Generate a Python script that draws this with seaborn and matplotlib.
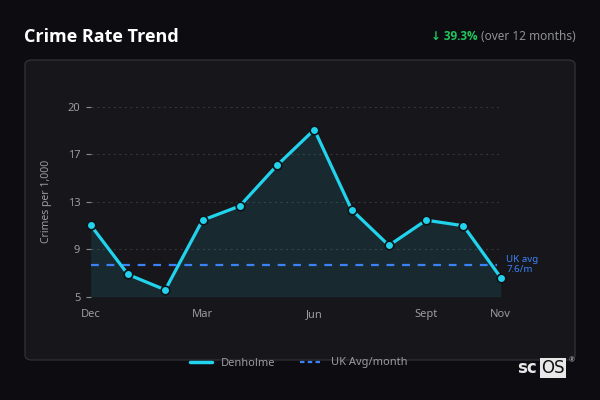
import matplotlib
matplotlib.use("Agg")
import matplotlib.pyplot as plt
from matplotlib.patches import FancyBboxPatch
from matplotlib.lines import Line2D
import numpy as np
import pandas as pd
import seaborn as sns

months = ["Dec", "Jan", "Feb", "Mar", "Apr", "May", "Jun", "Jul", "Aug", "Sept", "Oct", "Nov"]
rates = [10.8, 6.8, 5.55, 11.2, 12.35, 15.65, 18.55, 12.05, 9.15, 11.2, 10.75, 6.55]
uk_avg = 7.6
shown_ticks = ["Dec", "Mar", "Jun", "Sept", "Nov"]
series_name = "Denholme"
uk_name = "UK Avg/month"

sns.set_theme(style="dark")
plt.rcParams['font.family'] = ['Noto Sans', 'DejaVu Sans']
BOLD = ['Open Sans', 'DejaVu Sans']

BG = "#0d0d11"
PANEL = "#17171b"
CYAN = "#22d3ee"
BLUE = "#3b82f6"
GREY = "#9a9aa2"

df = pd.DataFrame({"idx": np.arange(len(months)), "month": months, "rate": rates})

fig = plt.figure(figsize=(6, 4), dpi=100, facecolor=BG)
panel = FancyBboxPatch((25 / 600, 40 / 400), 550 / 600, 300 / 400,
                       boxstyle="round,pad=0,rounding_size=0.012",
                       transform=fig.transFigure, facecolor=PANEL,
                       edgecolor="#2e2e35", linewidth=1, zorder=-5)
fig.patches.append(panel)

ax = fig.add_axes([90.7 / 600, 1 - 296.7 / 400, 410 / 600, 190 / 400])
ax.set_zorder(5)
ax.set_facecolor("none")

lo = min(rates) * 0.9
hi = max(rates) * 1.1

ax.fill_between(df["idx"], df["rate"], lo, color=CYAN, alpha=0.10, linewidth=0, zorder=1)
ax.axhline(uk_avg, xmin=0, xmax=0.99, color=BLUE, lw=1.6, ls=(0, (3.5, 3.5)), zorder=2)
sns.lineplot(data=df, x="idx", y="rate", ax=ax, color=CYAN, lw=2.3, marker="o",
             markersize=6.2, markeredgecolor="#0f1216", markeredgewidth=1.2, zorder=3,
             clip_on=False)

ax.set_xlim(0, len(months) - 1)
ax.set_ylim(lo, hi)
yt = np.linspace(lo, hi, 5)
ax.set_yticks(yt)
ax.set_yticklabels([f"{v:.0f}" for v in yt])
xt = [months.index(m) for m in shown_ticks]
ax.set_xticks(xt)
ax.set_xticklabels(shown_ticks)
ax.tick_params(axis="y", colors="#8a8a92", labelcolor=GREY, labelsize=8, length=3.5, width=0.8, pad=4, left=True)
ax.tick_params(axis="x", labelcolor=GREY, labelsize=8, length=0, pad=9)
for s in ax.spines.values():
    s.set_visible(False)
ax.grid(axis="y", color="#34343a", ls=(0, (2, 3)), lw=0.8)
ax.grid(axis="x", visible=False)
ax.set_xlabel("")
ax.set_ylabel("Crimes per 1,000", color=GREY, fontsize=7.5, labelpad=11)

ax.text(len(months) - 1 + 0.15, uk_avg, "UK avg\n7.6/m", color=BLUE, fontsize=7,
        va="center", ha="left", linespacing=1.1)

fig.text(24 / 600, 1 - 37 / 400, "Crime Rate Trend", color="white", fontsize=13,
         fontweight="bold", va="center", ha="left", family=BOLD)
fig.text(576 / 600, 1 - 37 / 400, "(over 12 months)", color="#8f8f97", fontsize=8.5,
         va="center", ha="right")
fig.text(478 / 600, 1 - 37 / 400, "↓ 39.3%", color="#22c55e", fontsize=8.5, fontweight="bold",
         va="center", ha="right", family=BOLD)

handles = [Line2D([0], [0], color=CYAN, lw=2.5),
           Line2D([0], [0], color=BLUE, lw=1.6, ls=(0, (2, 1.5)))]
leg = fig.legend(handles, [series_name, uk_name], loc="center", bbox_to_anchor=(299 / 600, 1 - 363 / 400),
                 ncol=2, frameon=False, fontsize=8, handlelength=2.0, columnspacing=2.2,
                 handletextpad=0.8)
for t in leg.get_texts():
    t.set_color(GREY)

fig.text(537 / 600, 1 - 368 / 400, "sc", color="#e8e8e8", fontsize=12, fontweight="bold",
         ha="right", va="center", family=["DejaVu Sans"])
fig.text(553 / 600, 1 - 368 / 400, "OS", color="#111", fontsize=12, ha="center", va="center",
         family=["DejaVu Sans"],
         bbox=dict(boxstyle="square,pad=0.08", facecolor="#e8e8e8", edgecolor="none"))
fig.text(572 / 600, 1 - 361 / 400, "®", color="#bbbbbb", fontsize=5, ha="center", va="center")

fig.savefig("out.png", dpi=100, facecolor=BG)
